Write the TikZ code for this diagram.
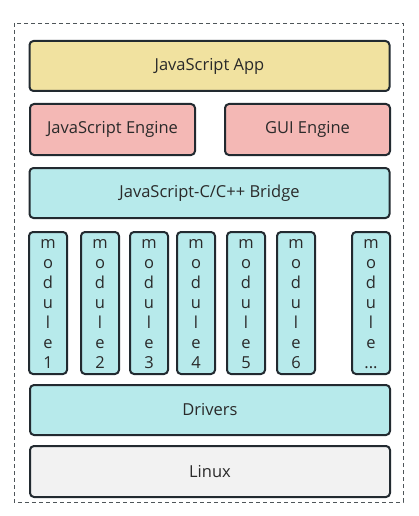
\documentclass[tikz,border=0pt]{standalone}
\usepackage{fontspec}
\setmainfont{Open Sans}
\begin{document}
\begin{tikzpicture}[x=1pt,y=-1pt,
  blk/.style={draw=strokec, line width=2pt, rounded corners=4pt, text=textc, font=\fontsize{16.5}{19}\selectfont},
  modbox/.style={draw=strokec, line width=2pt, rounded corners=4pt, fill=cyanc},
  modtxt/.style={text=textc, font=\fontsize{16.5}{20}\selectfont, align=center, inner sep=0pt}]
\definecolor{strokec}{HTML}{222A30}
\definecolor{textc}{HTML}{2A2A2A}
\definecolor{yellowc}{HTML}{F1E2A0}
\definecolor{pinkc}{HTML}{F4B8B5}
\definecolor{cyanc}{HTML}{B7EAEB}
\definecolor{greyc}{HTML}{F2F2F2}
\useasboundingbox (0,0) rectangle (419,516);
\draw[dashed, line width=0.8pt, draw=strokec!80, dash pattern=on 4pt off 3pt] (14,23) rectangle (403,502);
\node[blk, fill=yellowc, minimum width=360pt, minimum height=50pt] (app) at (209.5,66) {JavaScript App};
\node[blk, fill=pinkc, minimum width=165pt, minimum height=51pt] (jse) at (112.5,129.5) {JavaScript Engine};
\node[blk, fill=pinkc, minimum width=165pt, minimum height=51pt] (gui) at (307.5,129.5) {GUI Engine};
\node[blk, fill=cyanc, minimum width=360pt, minimum height=50pt] (br) at (209.5,193) {JavaScript-C/C++ Bridge};
\foreach \n/\xa/\lab in {1/29/1,2/81/2,3/130/3,4/177/4,5/227/5,6/277/6,7/352/{...}}{
  \draw[modbox] (\xa,232) rectangle ++(38,142);
  \node[modtxt, anchor=north] (m\n) at (\xa+19,239) {m\\o\\d\\u\\l\\e\\\lab};
}
\node[blk, fill=cyanc, minimum width=360pt, minimum height=50pt] (drv) at (210,410) {Drivers};
\node[blk, fill=greyc, minimum width=360pt, minimum height=51pt] (lin) at (210,471.5) {Linux};
\end{tikzpicture}
\end{document}
